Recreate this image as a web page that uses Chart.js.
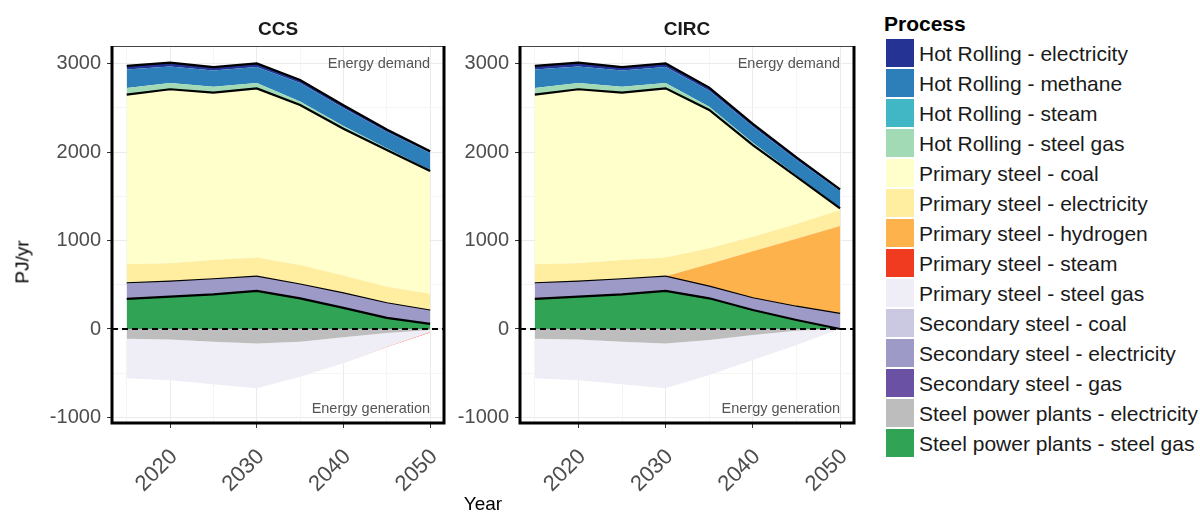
<!DOCTYPE html>
<html>
<head>
<meta charset="utf-8">
<title>Steel energy by process</title>
<script src="https://cdn.jsdelivr.net/npm/chart.js@4.4.1/dist/chart.umd.min.js"></script>
<style>
  html, body { margin: 0; padding: 0; background: #fff; }
  body { width: 1200px; height: 513px; position: relative; overflow: hidden;
         font-family: "Liberation Sans", Arial, Helvetica, sans-serif; color: #000; }
  canvas { position: absolute; top: 0; }
  .lbl { position: absolute; line-height: 1; white-space: nowrap; transform: translate(-50%, -50%); }
  .strip { font-weight: bold; font-size: 19px; color: #1a1a1a; }
  .axis-title { font-size: 19px; }
  #legend { position: absolute; left: 884px; top: 0; width: 316px; height: 513px; }
  #legend .title { position: absolute; left: 0; top: 13px; font-weight: bold; font-size: 21px; line-height: 21px; }
  #legend .item { position: absolute; left: 2px; height: 28px; }
  #legend .key { position: absolute; left: 0; top: 0; width: 28px; height: 28px; }
  #legend .text { position: absolute; left: 33px; top: 4px; font-size: 21px; line-height: 21px; white-space: nowrap; color: #1a1a1a; }
</style>
</head>
<body>
<canvas id="ccs" width="450" height="513" style="left:0"></canvas>
<canvas id="circ" width="425" height="513" style="left:450px"></canvas>

<div class="lbl strip" style="left:278px; top:28px">CCS</div>
<div class="lbl strip" style="left:687px; top:28px">CIRC</div>
<div class="lbl axis-title" style="left:22px; top:262px; transform: translate(-50%, -50%) rotate(-90deg)">PJ/yr</div>
<div class="lbl axis-title" style="left:483px; top:503px">Year</div>
<div id="legend"></div>

<script>
const years = [2015, 2020, 2025, 2030, 2035, 2040, 2045, 2050];
const xTicks = [2015, 2020, 2025, 2030, 2035, 2040, 2045, 2050];
const yTicks = [-1000, -500, 0, 500, 1000, 1500, 2000, 2500, 3000];

const processNames = [
  'Hot Rolling - electricity', 'Hot Rolling - methane', 'Hot Rolling - steam', 'Hot Rolling - steel gas',
  'Primary steel - coal', 'Primary steel - electricity', 'Primary steel - hydrogen', 'Primary steel - steam',
  'Primary steel - steel gas', 'Secondary steel - coal', 'Secondary steel - electricity', 'Secondary steel - gas',
  'Steel power plants - electricity', 'Steel power plants - steel gas'
];
const processColors = [
  '#253494', '#2c7fb8', '#41b6c4', '#a1dab4',
  '#ffffcc', '#ffeda0', '#feb24c', '#f03b20',
  '#efedf5', '#cbc9e2', '#9e9ac8', '#6a51a3',
  '#bdbdbd', '#31a354'
];

// CCS scenario, PJ/yr
const ccsHrElectricity  = [40, 45, 40, 40, 35, 30, 25, 20];
const ccsHrMethane      = [210, 186, 184, 182, 208, 205, 186, 195];
const ccsHrSteam        = [0, 0, 0, 0, 0, 0, 0, 0];
const ccsHrSteelGas     = [75, 70, 65, 60, 40, 30, 20, 8];
const ccsPsCoal         = [1919, 1968, 1893, 1912, 1809, 1660, 1546, 1389];
const ccsPsElectricity  = [214, 208, 218, 214, 222, 203, 188, 190];
const ccsPsHydrogen     = [0, 0, 0, 0, 0, 0, 0, 0];
const ccsPsSteam        = [0, 0, 0, 3, 0, 0, -3, -6];
const ccsPsSteelGas     = [-448, -460, -480, -506, -396, -294, -155, -25];
const ccsSsCoal         = [0, 0, 0, 0, 0, 0, 0, 0];
const ccsSsElectricity  = [177, 169, 170, 162, 155, 164, 165, 150];
const ccsSsGas          = [0, 0, 0, 0, 0, 0, 0, 0];
const ccsSppElectricity = [-110, -120, -145, -165, -143, -94, -45, -10];
const ccsSppSteelGas    = [340, 366, 392, 430, 347, 238, 125, 58];

// CIRC scenario, PJ/yr
const circHrElectricity  = [40, 45, 40, 40, 35, 30, 25, 20];
const circHrMethane      = [210, 186, 184, 182, 183, 185, 178, 190];
const circHrSteam        = [0, 0, 0, 0, 0, 0, 0, 0];
const circHrSteelGas     = [75, 70, 65, 60, 35, 25, 15, 5];
const circPsCoal         = [1919, 1968, 1893, 1912, 1565, 1036, 534, 19];
const circPsElectricity  = [214, 208, 218, 214, 177, 165, 167, 181];
const circPsHydrogen     = [0, 0, 0, 0, 256, 532, 769, 995];
const circPsSteam        = [0, 0, 0, 3, 0, 0, 0, 0];
const circPsSteelGas     = [-448, -460, -480, -506, -396, -282, -162, 0];
const circSsCoal         = [0, 0, 0, 0, 0, 0, 0, 0];
const circSsElectricity  = [177, 169, 170, 162, 132, 132, 150, 170];
const circSsGas          = [0, 0, 0, 0, 0, 0, 0, 0];
const circSppElectricity = [-110, -120, -145, -165, -124, -68, -19, 0];
const circSppSteelGas    = [340, 366, 392, 430, 347, 215, 102, 0];

// same order as processNames
const ccsSeries = [ccsHrElectricity, ccsHrMethane, ccsHrSteam, ccsHrSteelGas, ccsPsCoal, ccsPsElectricity,
  ccsPsHydrogen, ccsPsSteam, ccsPsSteelGas, ccsSsCoal, ccsSsElectricity, ccsSsGas, ccsSppElectricity, ccsSppSteelGas];
const circSeries = [circHrElectricity, circHrMethane, circHrSteam, circHrSteelGas, circPsCoal, circPsElectricity,
  circPsHydrogen, circPsSteam, circPsSteelGas, circSsCoal, circSsElectricity, circSsGas, circSppElectricity, circSppSteelGas];

const FONT = '"Liberation Sans", Arial, Helvetica, sans-serif';

// stacking order like ggplot: last factor level sits next to zero
const posOrder = [13, 11, 10, 9, 7, 6, 5, 4, 3, 2, 1, 0];
const negOrder = [12, 8, 7];
// top process of each group gets the black outline
const groupTops = [13, 9, 4, 0];

function buildDatasets(series) {
  const sets = [];
  posOrder.forEach((k, i) => {
    const edge = groupTops.includes(k);
    sets.push({
      label: processNames[k],
      data: years.map((yr, j) => ({ x: yr, y: Math.max(series[k][j], 0) })),
      backgroundColor: processColors[k],
      borderColor: edge ? '#000' : 'rgba(0,0,0,0)',
      borderWidth: edge ? 2.2 : 1,
      fill: i === 0 ? 'origin' : '-1',
      stack: 'pos'
    });
  });
  negOrder.forEach((k, i) => {
    sets.push({
      label: processNames[k],
      data: years.map((yr, j) => ({ x: yr, y: Math.min(series[k][j], 0) })),
      backgroundColor: processColors[k],
      borderColor: 'rgba(0,0,0,0)',
      borderWidth: 1,
      fill: i === 0 ? 'origin' : '-1',
      stack: 'neg'
    });
  });
  return sets;
}

const panelDecor = {
  id: 'panelDecor',
  afterDatasetsDraw(chart) {
    const { ctx, chartArea: a, scales: { x, y } } = chart;
    ctx.save();
    const y0 = y.getPixelForValue(0);
    ctx.strokeStyle = '#000';
    ctx.lineWidth = 2;
    ctx.setLineDash([6, 4]);
    ctx.beginPath();
    ctx.moveTo(a.left, y0);
    ctx.lineTo(a.right, y0);
    ctx.stroke();
    ctx.setLineDash([]);

    ctx.fillStyle = '#555';
    ctx.font = '14.5px ' + FONT;
    ctx.textAlign = 'right';
    ctx.textBaseline = 'middle';
    ctx.fillText('Energy demand', x.getPixelForValue(2050), y.getPixelForValue(3000));
    ctx.fillText('Energy generation', x.getPixelForValue(2050), y.getPixelForValue(-900));

    // panel frame: thin on top, heavy on the other sides
    ctx.strokeStyle = '#444';
    ctx.lineWidth = 1;
    ctx.strokeRect(a.left + 0.5, a.top + 0.5, a.width - 1, a.height - 1);
    ctx.strokeStyle = '#000';
    ctx.lineWidth = 3;
    ctx.beginPath();
    ctx.moveTo(a.left, a.top);
    ctx.lineTo(a.left, a.bottom);
    ctx.lineTo(a.right, a.bottom);
    ctx.lineTo(a.right, a.top);
    ctx.stroke();
    ctx.restore();
  }
};

function panelOptions(axisWidth, padRight) {
  return {
    responsive: false,
    animation: false,
    events: [],
    layout: { padding: { top: 46, right: padRight, left: 0, bottom: 0 } },
    plugins: { legend: { display: false }, tooltip: { enabled: false }, title: { display: false } },
    elements: { point: { radius: 0 }, line: { tension: 0 } },
    scales: {
      x: {
        type: 'linear',
        min: 2013.3,
        max: 2051.6,
        afterBuildTicks: s => { s.ticks = xTicks.map(v => ({ value: v })); },
        afterFit: s => { s.height = 90; s.paddingLeft = 0; s.paddingRight = 0; },
        ticks: {
          autoSkip: false, minRotation: 45, maxRotation: 45, padding: 16, labelOffset: 4,
          color: '#4d4d4d', font: { family: FONT, size: 22 },
          callback: v => (v % 10 === 0 ? String(v) : '')
        },
        grid: {
          color: c => (c.tick && c.tick.value % 10 === 0 ? '#ebebeb' : '#f5f5f5'),
          tickColor: c => (c.tick && c.tick.value % 10 === 0 ? '#333' : 'rgba(0,0,0,0)'),
          tickLength: 5
        },
        border: { display: false }
      },
      y: {
        stacked: true,
        min: -1063,
        max: 3200,
        afterBuildTicks: s => { s.ticks = yTicks.map(v => ({ value: v })); },
        afterFit: s => { s.width = axisWidth; s.paddingTop = 0; s.paddingBottom = 0; },
        ticks: {
          padding: 6, color: '#4d4d4d', font: { family: FONT, size: 20 },
          callback: v => (v % 1000 === 0 ? String(v) : '')
        },
        grid: {
          color: c => (c.tick && c.tick.value % 1000 === 0 ? '#ebebeb' : '#f5f5f5'),
          tickColor: c => (c.tick && c.tick.value % 1000 === 0 ? '#333' : 'rgba(0,0,0,0)'),
          tickLength: 5
        },
        border: { display: false }
      }
    }
  };
}

new Chart(document.getElementById('ccs'), {
  type: 'line',
  data: { datasets: buildDatasets(ccsSeries) },
  options: panelOptions(112, 6),
  plugins: [panelDecor]
});

new Chart(document.getElementById('circ'), {
  type: 'line',
  data: { datasets: buildDatasets(circSeries) },
  options: panelOptions(70, 21),
  plugins: [panelDecor]
});

// legend
const legend = document.getElementById('legend');
legend.innerHTML = '<div class="title">Process</div>' + processNames.map((name, i) =>
  `<div class="item" style="top:${39 + i * 30}px"><div class="key" style="background:${processColors[i]}"></div>` +
  `<div class="text">${name}</div></div>`).join('');
</script>
</body>
</html>
